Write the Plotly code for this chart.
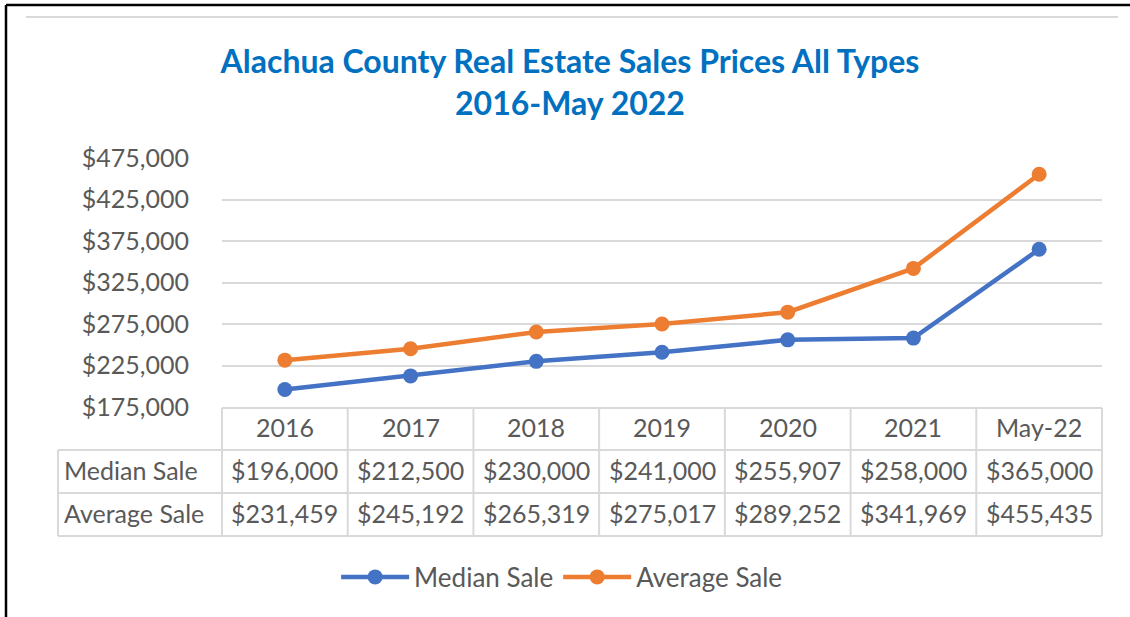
import plotly.graph_objects as go

categories = ["2016", "2017", "2018", "2019", "2020", "2021", "May-22"]
median_sale = [196000, 212500, 230000, 241000, 255907, 258000, 365000]
average_sale = [231459, 245192, 265319, 275017, 289252, 341969, 455435]
series_names = ["Median Sale", "Average Sale"]
y_ticks = [175000, 225000, 275000, 325000, 375000, 425000, 475000]
title_lines = ["Alachua County Real Estate Sales Prices All Types", "2016-May 2022"]

W, H = 1130, 617
L, R, T, B = 222, 1102, 158, 407
FONT = "Lato"
GRAY = "#595959"
GRID = "#D9D9D9"
BLUE = "#4472C4"
ORANGE = "#ED7D31"
FS = 25


def px(x):
    return (x - L) / (R - L)


def py(y):
    return (B - y) / (B - T)


xi = list(range(len(categories)))

fig = go.Figure()
for name, vals, col in [(series_names[0], median_sale, BLUE), (series_names[1], average_sale, ORANGE)]:
    fig.add_trace(go.Scatter(
        x=xi, y=vals, name=name, mode="lines+markers",
        line=dict(color=col, width=4.5),
        marker=dict(color=col, size=15),
        cliponaxis=False,
    ))

# table geometry (pixels)
row_top = [408, 450, 493]
row_bot = [450, 493, 536]
label_left = 58
col_w = (R - L) / len(categories)

shapes = []
line_style = dict(color=GRID, width=2)
for y in [450, 493, 536]:
    shapes.append(dict(type="line", xref="paper", yref="paper", x0=px(label_left), x1=px(R),
                       y0=py(y), y1=py(y), line=line_style))
shapes.append(dict(type="line", xref="paper", yref="paper", x0=px(L), x1=px(R),
                   y0=py(408), y1=py(408), line=line_style))
shapes.append(dict(type="line", xref="paper", yref="paper", x0=px(label_left), x1=px(label_left),
                   y0=py(450), y1=py(536), line=line_style))
for i in range(len(categories) + 1):
    x = L + i * col_w
    shapes.append(dict(type="line", xref="paper", yref="paper", x0=px(x), x1=px(x),
                       y0=py(408), y1=py(536), line=line_style))
# decorative top rule and outer frame
shapes.append(dict(type="line", xref="paper", yref="paper", x0=px(26), x1=px(1118),
                   y0=py(17), y1=py(17), line=dict(color=GRID, width=2)))
shapes.append(dict(type="line", xref="paper", yref="paper", x0=px(6), x1=px(W + 5),
                   y0=py(5), y1=py(5), line=dict(color="black", width=2.5)))
shapes.append(dict(type="line", xref="paper", yref="paper", x0=px(6), x1=px(6),
                   y0=py(5), y1=py(H + 5), line=dict(color="black", width=2.5)))

annotations = []
font = dict(family=FONT, size=FS, color=GRAY)
for i, c in enumerate(categories):
    annotations.append(dict(x=i, xref="x", y=py(427), yref="paper", text=c, showarrow=False,
                            font=font, xanchor="center", yanchor="middle"))
for r, (name, vals) in enumerate([(series_names[0], median_sale), (series_names[1], average_sale)]):
    yc = py((row_top[r + 1] + row_bot[r + 1]) / 2 - 2)
    annotations.append(dict(x=px(62), xref="paper", y=yc, yref="paper", text=name, showarrow=False,
                            font=font, xanchor="left", yanchor="middle"))
    for i, v in enumerate(vals):
        annotations.append(dict(x=i, xref="x", y=yc, yref="paper", text=f"${v:,}", showarrow=False,
                                font=font, xanchor="center", yanchor="middle"))

fig.update_layout(
    width=W, height=H,
    margin=dict(l=L, r=W - R, t=T, b=H - B),
    paper_bgcolor="white", plot_bgcolor="white",
    title=dict(text="<b>" + "<br>".join(title_lines) + "</b>", x=570 / W, xref="container", xanchor="center",
               y=1 - 73 / H, yref="container", yanchor="middle",
               font=dict(family=FONT, size=32, color="#0070C0")),
    xaxis=dict(range=[-0.5, len(categories) - 0.5], showticklabels=False, showgrid=False,
               zeroline=False, showline=False, fixedrange=True),
    yaxis=dict(range=[y_ticks[0], y_ticks[-1]], tickvals=y_ticks,
               ticktext=[f"${v:,}" for v in y_ticks],
               tickfont=dict(family=FONT, size=FS, color=GRAY),
               showgrid=True, gridcolor=GRID, gridwidth=1.5, zeroline=False, showline=False,
               ticklabelstandoff=32, fixedrange=True),
    legend=dict(orientation="h", xref="container", yref="container", x=0.497, xanchor="center",
                y=1 - 577 / H, yanchor="middle", font=dict(family=FONT, size=26, color=GRAY),
                itemwidth=68),
    shapes=shapes,
    annotations=annotations,
)

fig.write_html("out.html", post_script="document.body.style.margin='0';",
               config={"displayModeBar": False})
